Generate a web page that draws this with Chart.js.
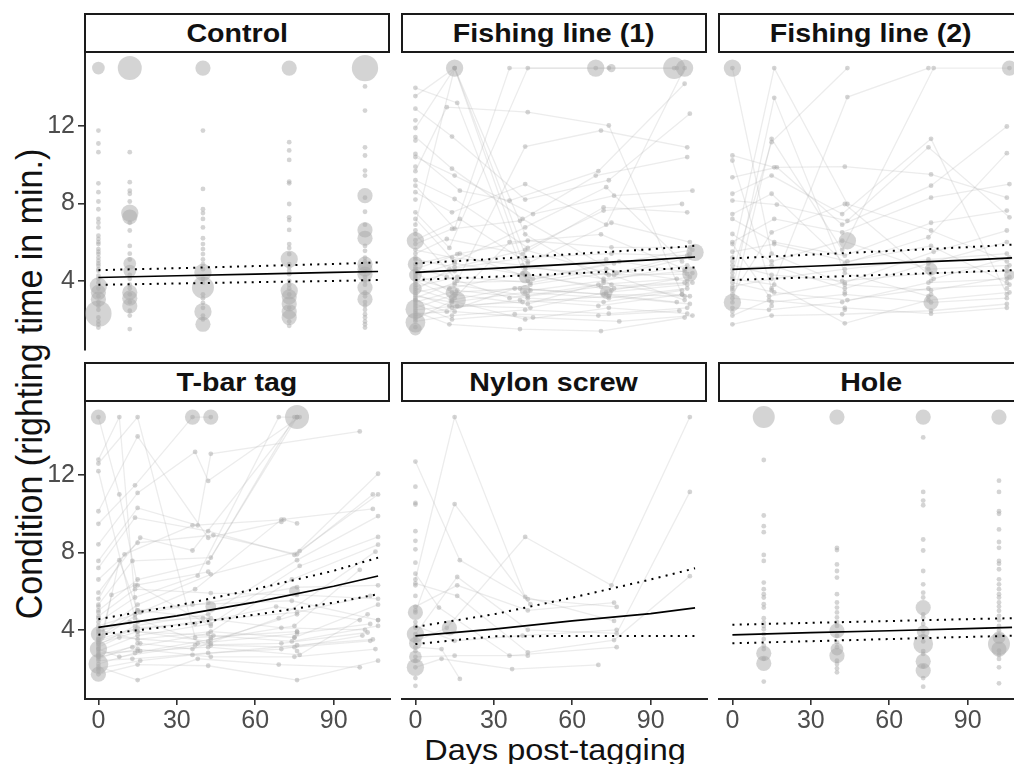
<!DOCTYPE html>
<html>
<head>
<meta charset="utf-8">
<script src="https://cdn.jsdelivr.net/npm/chart.js@4"></script>
<style>
  html, body { margin: 0; padding: 0; background: #fff; width: 1014px; height: 764px; overflow: hidden; }
  body { position: relative; font-family: "Liberation Sans", Arial, sans-serif; }
  canvas { position: absolute; }
  .strip { position: absolute; box-sizing: border-box; border: 2px solid #1a1a1a; background: #fff;
           width: 306px; height: 40px; text-align: center; line-height: 36px; font-weight: bold;
           font-size: 26px; color: #111; white-space: nowrap; }
  .strip span { display: inline-block; transform: scaleX(1.1); }
  .title { position: absolute; font-size: 29.5px; color: #111; white-space: nowrap; line-height: 1; }
</style>
</head>
<body>
<div id="ytitle" class="title" style="left:29px;top:384px;font-size:34px;transform:translate(-50%,-50%) rotate(-90deg) scaleY(1.1)">Condition (righting time in min.)</div>
<div id="xtitle" class="title" style="left:555px;top:750px;transform:translate(-50%,-50%) scaleX(1.1)">Days post-tagging</div>
<script>
// ---- data ----
const panelTitles = ['Control', 'Fishing line (1)', 'Fishing line (2)', 'T-bar tag', 'Nylon screw', 'Hole'];
const xTicks = [0, 30, 60, 90];
const yTicks = [4, 8, 12];
const fitDays = [0, 30, 60, 90, 107];

// Control: unconnected observations per sampling day
const controlDays = [0, 12, 40, 73, 102];
const controlValues = [
  [11.77, 11.1, 10.65, 9.04, 8.58, 8.1, 7.7, 7.2, 7.0, 6.76, 6.33, 6.16, 5.9, 5.64, 5.38, 5.04, 4.78, 4.52, 4.26, 4.1, 3.9, 3.6, 3.2, 2.9, 2.7, 2.5, 2.1, 1.9, 1.75, 1.58, 6.0, 5.5, 5.2, 4.9, 4.6],
  [10.65, 9.1, 8.66, 8.5, 8.1, 7.0, 6.6, 5.8, 5.4, 4.1, 3.8, 3.6, 2.9, 2.45, 2.2, 1.5, 5.1, 4.3, 3.3],
  [11.77, 8.75, 7.7, 7.5, 7.2, 6.76, 6.2, 5.9, 5.64, 5.38, 4.86, 4.6, 4.1, 3.9, 3.3, 2.86, 2.6, 2.2, 2.0, 3.1, 5.1],
  [11.17, 10.74, 10.25, 9.13, 9.04, 7.97, 7.28, 7.14, 6.63, 5.9, 5.7, 5.38, 4.86, 4.52, 4.34, 4.0, 3.8, 3.3, 2.6, 1.9, 1.67, 3.6, 4.7],
  [14.05, 12.8, 10.9, 10.48, 9.7, 9.44, 8.3, 7.57, 6.9, 5.55, 5.2, 5.0, 4.2, 4.0, 3.8, 3.4, 3.2, 2.9, 2.7, 2.5, 2.27, 2.1, 1.9, 1.75, 1.58, 5.8, 4.5]
];
// [day, value, count] for overlapping observations
const controlBig = [
  [0, 15, 7], [0, 3.74, 13], [0, 3.4, 10], [0, 3.05, 10], [0, 2.3, 30],
  [12, 15, 25], [12, 7.5, 13], [12, 7.3, 10], [12, 4.9, 7], [12, 4.5, 7], [12, 3.4, 10], [12, 3.1, 10], [12, 2.7, 10],
  [40, 15, 10], [40, 4.43, 13], [40, 3.65, 21], [40, 2.4, 13], [40, 1.75, 10],
  [73, 15, 10], [73, 5.12, 13], [73, 3.48, 13], [73, 3.17, 10], [73, 2.8, 10], [73, 2.4, 10], [73, 2.1, 10],
  [102, 15, 30], [102, 8.4, 10], [102, 6.63, 10], [102, 6.2, 10], [102, 4.86, 10], [102, 4.6, 10], [102, 4.34, 10], [102, 3.65, 10], [102, 3.05, 10]
];
const controlFit = [4.17, 4.26, 4.34, 4.43, 4.48];
const controlUpper = [4.55, 4.65, 4.76, 4.87, 4.95];
const controlLower = [3.79, 3.86, 3.93, 3.99, 4.04];

// Fishing line (1): individual tracks as day,value pairs
const fishing1Tracks = [
  [0,3.2, 14,2.9, 42,3.4, 74,3.1, 104,3.6],
  [0,2.6, 15,3.3, 43,2.8, 72,3.9, 103,3.2],
  [0,4.1, 13,3.6, 41,4.4, 75,3.5, 105,4.2],
  [0,3.7, 16,4.2, 44,3.9, 73,4.6, 104,4.0],
  [0,2.2, 14,2.6, 40,3.0, 70,2.7, 102,3.3],
  [0,5.1, 15,4.7, 42,5.6, 76,4.3, 105,5.2],
  [0,3.0, 12,2.4, 38,3.6, 72,3.3, 100,2.9],
  [0,4.6, 17,5.4, 45,4.1, 78,5.0, 106,4.4],
  [0,1.9, 14,2.2, 42,2.5, 74,2.3, 104,2.6],
  [0,3.4, 15,3.8, 43,3.2, 71,3.7, 103,3.9],
  [0,6.9, 15,15, 42,4.6, 73,5.1],
  [0,11.9, 15,15, 43,5.0],
  [0,13.98, 16,13.2, 44,3.5, 72,4.0, 104,4.8],
  [0,13.55, 15,15, 42,6.4, 75,3.8],
  [0,11.43, 14,9.8, 41,7.2, 77,4.4, 105,5.4],
  [0,10.56, 17,8.66, 36,8.15, 70,9.67, 103,14.19],
  [0,9.67, 12,12.98, 43,12.72, 74,12.03, 102,3.3],
  [0,8.92, 15,6.7, 36,15, 69,15, 99,15],
  [0,7.54, 13,5.7, 43,15, 74,15, 100,15],
  [0,6.42, 16,4.0, 42,10.94, 71,11.77, 104,10.9],
  [0,8.58, 14,7.54, 42,9.0, 73,6.9, 103,15],
  [0,10.4, 15,9.44, 45,7.45, 76,8.4, 106,8.66],
  [0,5.4, 12,6.16, 41,5.38, 72,7.8, 104,7.54],
  [0,4.86, 16,5.38, 43,6.07, 75,5.73, 105,5.73],
  [0,2.8, 14,2.0, 38,2.27, 70,2.2, 101,2.45],
  [0,3.9, 15,4.5, 42,4.7, 74,4.3, 104,4.34],
  [0,2.4, 13,1.75, 40,1.5, 71,1.4, 103,2.1],
  [0,3.6, 14,3.0, 44,3.8, 73,4.4, 103,3.0],
  [0,4.3, 15,4.9, 42,4.3, 76,3.6, 106,3.9],
  [0,2.9, 16,3.5, 43,3.1, 72,2.9, 102,3.5],
  [0,3.3, 13,2.7, 41,2.9, 74,3.2, 105,2.8],
  [0,5.9, 14,6.68, 40,7.1, 69,9.44, 104,10.4],
  [0,7.2, 15,5.0, 42,6.76, 73,8.84, 102,5.0],
  [0,4.0, 15,3.1, 36,6.0, 71,6.4, 103,4.6],
  [0,6.1, 17,7.2, 43,4.9, 75,7.0, 105,6.0],
  [0,2.0, 14,2.96, 42,2.0, 74,2.6, 104,2.3],
  [0,4.7, 12,4.2, 36,3.1, 70,3.8, 100,4.1],
  [0,3.1, 15,3.9, 43,4.0, 76,4.9, 106,5.6],
  [0,5.6, 14,5.2, 41,4.8, 72,4.1, 103,4.5],
  [0,2.5, 16,2.7, 44,2.6, 73,3.4, 104,3.8],
  [0,12.9, 14,11.46, 42,8.2, 74,9.2, 105,12.64],
  [0,9.2, 15,8.23, 43,5.7, 72,7.63, 102,7.97],
  [0,3.5, 13,4.6, 42,5.2, 75,5.4, 104,5.3],
  [0,4.4, 14,3.4, 40,3.6, 73,3.3, 105,3.2],
  [0,2.3, 15,2.4, 45,2.1, 78,1.9, 106,2.2]
];
const fishing1Single = [0,4.2, 0,3.8, 0,2.1, 0,1.6, 0,5.2, 0,4.5, 0,3.0, 0,2.7, 0,12.3, 0,11.25, 0,9.9, 0,8.2, 0,6.6];
const fishing1Big = [
  [0, 6.07, 13], [0, 4.86, 10], [0, 4.3, 7], [0, 3.6, 7], [0, 2.53, 17], [0, 1.84, 17], [0, 1.5, 7],
  [15, 15, 13], [16, 3.0, 13], [14, 3.4, 7], [69, 15, 13], [75, 15, 3], [99, 15, 21], [103, 15, 13],
  [107, 5.47, 13], [105, 4.35, 10], [73, 3.4, 7], [42, 4.2, 7], [42, 3.5, 5]
];
const fishing1Fit = [4.43, 4.64, 4.86, 5.08, 5.23];
const fishing1Upper = [4.9, 5.13, 5.38, 5.63, 5.81];
const fishing1Lower = [4.04, 4.21, 4.38, 4.57, 4.69];

// Fishing line (2)
const fishing2Tracks = [
  [0,15, 15,5.4, 43,3.8, 76,3.5, 106,4.2],
  [0,5.2, 16,15, 44,7.97, 76,6.6, 105,5.0],
  [0,3.5, 16,13.46, 43,4.4, 75,3.2],
  [0,2.88, 15,11.34, 42,5.6, 77,15, 106,15],
  [0,4.4, 15,11.17, 44,15],
  [0,10.48, 16,9.87, 43,9.9, 76,9.5, 105,8.3],
  [0,10.22, 15,3.6, 44,13.5, 75,15],
  [0,9.35, 17,9.87, 42,6.9, 76,8.92, 105,11.98],
  [0,8.5, 15,9.44, 42,7.45, 76,11.34, 105,3.3],
  [0,8.15, 17,7.94, 44,7.1, 75,10.9, 106,7.28],
  [0,7.45, 15,8.5, 43,4.9, 75,6.25, 105,10.6],
  [0,7.2, 16,6.0, 43,5.3, 76,7.0, 105,7.63],
  [0,6.42, 15,5.0, 42,6.07, 75,4.6, 106,4.8],
  [0,5.9, 14,3.2, 43,3.9, 77,5.5, 105,6.6],
  [0,4.8, 15,4.3, 42,4.0, 76,4.4, 105,4.5],
  [0,3.9, 16,3.4, 44,3.0, 75,3.6, 106,3.8],
  [0,3.1, 15,2.9, 43,3.3, 76,2.88, 105,3.1],
  [0,1.75, 15,2.2, 42,2.27, 76,2.45, 105,2.8],
  [0,4.1, 16,3.8, 43,1.8, 75,3.0, 106,3.4],
  [0,2.6, 14,2.5, 42,2.9, 75,3.9, 105,4.1],
  [0,5.5, 16,5.9, 44,5.0, 76,5.8, 105,3.9],
  [0,4.6, 15,4.8, 43,3.6, 75,4.9, 105,6.0],
  [0,3.3, 15,6.5, 43,7.97, 77,4.1, 106,5.2],
  [0,2.2, 14,3.0, 43,2.6, 76,2.3, 105,2.6],
  [0,6.0, 16,7.2, 42,6.5, 76,8.3, 106,9.0],
  [0,3.7, 15,4.1, 43,4.6, 75,5.1, 105,5.4]
];
const fishing2Single = [0,5.0, 0,4.2, 0,3.6, 0,2.4, 15,3.5, 15,2.7, 43,3.4, 43,2.5, 76,3.3, 76,4.0, 105,3.6, 105,4.7];
const fishing2Big = [[0, 15, 13], [0, 2.88, 13], [44, 6.07, 13], [76, 2.88, 10], [76, 4.6, 7], [106, 15, 10], [106, 4.3, 5]];
const fishing2Fit = [4.59, 4.75, 4.91, 5.07, 5.18];
const fishing2Upper = [5.16, 5.35, 5.54, 5.74, 5.87];
const fishing2Lower = [4.04, 4.18, 4.32, 4.46, 4.55];

// T-bar tag
const tbarTracks = [
  [0,15, 8,11.0, 15,6.3, 43,4.2],
  [0,12.8, 8,15, 15,3.9, 42,3.4, 76,4.8],
  [0,12.6, 15,15, 37,3.6, 76,3.9],
  [0,12.2, 14,4.6, 43,3.2, 75,3.1, 104,3.43],
  [0,10.13, 15,14.0, 42,8.76, 70,9.58],
  [0,9.48, 14,11.47, 36,15, 43,15],
  [0,8.42, 15,11.08, 37,13.2, 42,11.7, 77,15],
  [0,7.56, 15,10.3, 38,9.4, 43,13.1, 100,14.26],
  [0,7.2, 14,9.8, 42,9.1, 75,7.87, 107,12.07],
  [0,5.92, 16,8.76, 36,8.1, 76,15],
  [0,5.3, 13,7.56, 43,7.73, 76,15],
  [0,5.0, 15,6.6, 42,7.47, 75,15],
  [0,4.4, 14,5.67, 38,6.8, 69,15, 76,15],
  [0,3.78, 15,5.3, 43,6.87, 77,8.07, 107,11.0],
  [0,3.5, 16,4.9, 37,6.1, 70,9.7, 105,10.25],
  [0,3.2, 14,4.2, 42,4.8, 76,7.6, 107,9.88],
  [0,2.9, 15,3.7, 43,4.3, 77,7.3, 107,8.8],
  [0,2.7, 13,3.1, 42,3.8, 74,6.6, 107,8.4],
  [0,2.5, 16,3.3, 36,3.0, 69,4.6, 106,8.04],
  [0,2.23, 14,2.8, 43,3.5, 75,4.2, 100,7.1],
  [0,1.7, 15,2.2, 42,2.14, 76,1.4, 107,2.4],
  [0,2.1, 15,1.4, 38,2.5, 69,2.2, 100,2.06],
  [0,3.0, 8,2.6, 37,3.2, 70,3.3, 103,3.86],
  [0,3.4, 14,4.0, 42,4.5, 76,4.9, 104,5.75],
  [0,4.0, 15,3.5, 43,3.9, 75,3.6, 107,5.3],
  [0,2.8, 16,2.9, 42,3.1, 77,2.7, 103,4.8],
  [0,3.6, 15,5.0, 36,5.3, 74,5.5, 107,4.5],
  [0,4.7, 14,6.1, 43,5.9, 76,5.8, 107,5.6],
  [0,2.4, 13,2.5, 42,2.8, 70,3.0, 101,3.7],
  [0,3.1, 8,3.6, 38,3.3, 76,3.8, 104,4.3],
  [0,2.6, 15,3.0, 43,2.6, 75,2.6, 106,3.0],
  [0,3.9, 12,4.4, 40,4.6, 70,4.1, 102,4.0],
  [0,2.0, 16,2.4, 36,2.7, 76,3.2, 105,3.5],
  [0,3.3, 15,3.9, 44,3.7, 74,3.4, 107,4.2],
  [0,4.2, 14,4.8, 42,5.4, 76,6.2, 107,6.3],
  [0,5.6, 10,7.9, 36,9.4, 71,9.7, 76,9.5],
  [0,6.6, 15,8.5, 44,8.9, 76,7.9, 105,11.0],
  [0,3.0, 5,5.8, 14,6.3, 42,7.0],
  [0,2.7, 8,7.6, 15,5.0, 43,4.6],
  [0,3.5, 15,4.1, 37,4.3, 68,5.2, 100,4.5]
];
const tbarSingle = [0,5.2, 0,4.9, 0,4.6, 0,3.3, 0,2.6, 0,1.9, 15,4.4, 15,3.3, 15,2.9, 43,3.6, 43,3.3, 76,3.9, 76,2.9, 75,3.6, 107,4.5];
const tbarBig = [[0, 15, 10], [0, 3.78, 10], [0, 3.0, 13], [0, 2.23, 17], [0, 1.7, 10], [36, 15, 10], [43, 15, 10], [76, 15, 25], [43, 5.2, 5], [75, 6.0, 5]];
const tbarFit = [4.12, 4.72, 5.43, 6.25, 6.78];
const tbarUpper = [4.55, 5.25, 6.1, 7.05, 7.73];
const tbarLower = [3.74, 4.22, 4.78, 5.4, 5.84];

// Nylon screw
const nylonTracks = [
  [0,12.7, 17,7.6, 43,5.58, 77,5.18],
  [0,6.6, 15,15, 42,5.7, 76,4.46],
  [0,4.9, 15,10.5, 44,5.32],
  [0,3.4, 12,4.1, 42,8.8, 75,6.3, 105,15],
  [0,3.78, 16,6.73, 43,4.0, 77,3.81, 105,11.13],
  [0,6.9, 9,5.15, 36,2.66, 77,3.1],
  [0,2.06, 10,2.5, 37,1.97, 70,2.18],
  [0,6.4, 16,5.75, 43,2.83, 76,3.47, 105,6.77],
  [0,3.1, 10,3.0, 17,1.46],
  [0,4.2, 15,3.43, 41,3.7, 77,4.0],
  [0,2.6, 15,2.66, 43,2.66],
  [0,5.2, 16,6.3, 43,5.0, 76,5.4]
];
const nylonSingle = [0,11.4, 0,10.56, 0,10.48, 0,9.1, 0,8.6, 0,8.16, 0,7.47, 0,6.3, 0,5.75, 0,1.1, 0,1.5, 0,2.4, 0,2.9, 0,3.6, 0,4.4, 0,5.0, 0,4.1];
const nylonBig = [[0, 4.9, 10], [0, 3.78, 13], [0, 3.3, 7], [0, 2.06, 13], [13, 4.1, 10], [0, 2.6, 7]];
const nylonFit = [3.68, 4.03, 4.46, 4.84, 5.13];
const nylonUpper = [4.15, 4.8, 5.66, 6.6, 7.18];
const nylonLower = [3.26, 3.66, 3.68, 3.68, 3.68];

// Hole: unconnected observations per sampling day
const holeDays = [12, 40, 73, 102];
const holeValues = [
  [12.78, 9.91, 9.36, 9.05, 7.87, 7.56, 6.44, 6.1, 5.84, 5.67, 5.32, 5.15, 4.38, 4.03, 3.78, 3.52, 3.18, 1.32, 4.6, 4.2, 3.0, 2.5],
  [8.24, 8.12, 7.38, 7.04, 6.7, 5.84, 5.41, 5.15, 4.9, 4.64, 4.2, 3.69, 3.35, 2.23, 1.8, 4.4, 3.1, 2.0, 2.4],
  [13.95, 11.13, 10.68, 10.44, 8.67, 8.1, 7.04, 6.35, 5.92, 5.67, 4.64, 4.3, 3.95, 3.69, 2.75, 1.06, 4.8, 3.4, 2.9, 2.1, 1.5],
  [11.71, 11.13, 10.13, 10.0, 9.19, 8.54, 8.24, 7.56, 7.42, 7.13, 6.61, 6.35, 6.1, 5.84, 5.67, 5.41, 4.98, 4.72, 3.95, 2.92, 2.49, 2.06, 1.23, 5.2, 4.5, 4.2, 3.7, 2.7]
];
const holeBig = [
  [12, 15, 21], [12, 2.78, 10], [12, 2.26, 10],
  [40, 15, 10], [40, 3.95, 10], [40, 3.0, 7], [40, 2.66, 10],
  [73, 15, 10], [73, 5.15, 10], [73, 3.26, 17], [73, 2.37, 10], [73, 1.89, 10], [73, 3.9, 7],
  [102, 15, 10], [102, 3.26, 21], [102, 3.0, 10], [102, 3.6, 7]
];
const holeFit = [3.74, 3.85, 3.95, 4.06, 4.12];
const holeUpper = [4.26, 4.36, 4.45, 4.55, 4.6];
const holeLower = [3.3, 3.41, 3.52, 3.63, 3.69];

// ---- layout ----
const PANEL_LEFT = [85, 402, 719];
const PANEL_TOP = [53, 402];
const STRIP_TOP = [13, 362];
const PANEL_W = 306, PANEL_H = 297, MARGIN_L = 60, MARGIN_B = 40;
const X_MIN = -5.13, X_MAX = 111.95, Y_MIN = 0.42, Y_MAX = 15.78;

const POINT_FILL = 'rgba(170,170,170,0.5)';
const TRACK_LINE = 'rgba(160,160,160,0.2)';
const AXIS_COL = '#222';
const TICK_FONT = { family: '"Liberation Sans", Arial, sans-serif', size: 25 };

function pairs(flat) {
  const out = [];
  for (let i = 0; i < flat.length; i += 2) out.push({ x: flat[i], y: flat[i + 1], n: 1 });
  return out;
}
function columns(days, values) {
  const out = [];
  days.forEach((d, i) => values[i].forEach(v => out.push({ x: d, y: v, n: 1 })));
  return out;
}
function bigPts(list) {
  return list.map(p => ({ x: p[0], y: p[1], n: p[2] }));
}
function fitLine(vals) {
  return fitDays.map((d, i) => ({ x: d, y: vals[i] }));
}

const panels = [
  { tracks: [], points: columns(controlDays, controlValues), big: bigPts(controlBig), fit: [controlFit, controlUpper, controlLower] },
  { tracks: fishing1Tracks, points: pairs(fishing1Single).concat(...fishing1Tracks.map(pairs)), big: bigPts(fishing1Big), fit: [fishing1Fit, fishing1Upper, fishing1Lower] },
  { tracks: fishing2Tracks, points: pairs(fishing2Single).concat(...fishing2Tracks.map(pairs)), big: bigPts(fishing2Big), fit: [fishing2Fit, fishing2Upper, fishing2Lower] },
  { tracks: tbarTracks, points: pairs(tbarSingle).concat(...tbarTracks.map(pairs)), big: bigPts(tbarBig), fit: [tbarFit, tbarUpper, tbarLower] },
  { tracks: nylonTracks, points: pairs(nylonSingle).concat(...nylonTracks.map(pairs)), big: bigPts(nylonBig), fit: [nylonFit, nylonUpper, nylonLower] },
  { tracks: [], points: columns(holeDays, holeValues), big: bigPts(holeBig), fit: [holeFit, holeUpper, holeLower] }
];

panels.forEach((p, k) => {
  const col = k % 3, row = Math.floor(k / 3);
  const showY = col === 0, showX = row === 1;

  // strip header
  const strip = document.createElement('div');
  strip.className = 'strip';
  strip.style.left = (PANEL_LEFT[col] - 1) + 'px';
  strip.style.top = STRIP_TOP[row] + 'px';
  const span = document.createElement('span');
  span.textContent = panelTitles[k];
  strip.appendChild(span);
  document.body.appendChild(strip);

  const canvas = document.createElement('canvas');
  canvas.width = PANEL_W + MARGIN_L;
  canvas.height = PANEL_H + MARGIN_B;
  canvas.style.left = (PANEL_LEFT[col] - MARGIN_L) + 'px';
  canvas.style.top = PANEL_TOP[row] + 'px';
  canvas.style.width = canvas.width + 'px';
  canvas.style.height = canvas.height + 'px';
  document.body.appendChild(canvas);

  const radius = ctx => 2.4 * Math.sqrt((ctx.raw && ctx.raw.n) || 1);
  const datasets = [
    { data: fitLine(p.fit[0]), showLine: true, pointRadius: 0, borderColor: '#000', borderWidth: 1.7 },
    { data: fitLine(p.fit[1]), showLine: true, pointRadius: 0, borderColor: '#000', borderWidth: 2, borderDash: [2, 5.3] },
    { data: fitLine(p.fit[2]), showLine: true, pointRadius: 0, borderColor: '#000', borderWidth: 2, borderDash: [2, 5.3] },
    { data: p.big, pointRadius: radius, backgroundColor: POINT_FILL, borderWidth: 0 },
    { data: p.points, pointRadius: radius, backgroundColor: POINT_FILL, borderWidth: 0 }
  ];
  p.tracks.forEach(t => {
    datasets.push({ data: pairs(t), showLine: true, pointRadius: 0, borderColor: TRACK_LINE, borderWidth: 1.3 });
  });

  new Chart(canvas, {
    type: 'scatter',
    data: { datasets },
    options: {
      responsive: false,
      animation: false,
      events: [],
      layout: { autoPadding: false, padding: { left: showY ? 0 : MARGIN_L, bottom: showX ? 0 : MARGIN_B, top: 0, right: 0 } },
      plugins: { legend: { display: false }, tooltip: { enabled: false } },
      scales: {
        x: {
          type: 'linear', min: X_MIN, max: X_MAX, display: showX,
          afterFit: s => { s.height = showX ? MARGIN_B : 0; s.paddingLeft = 0; s.paddingRight = 0; },
          afterBuildTicks: s => { s.ticks = xTicks.map(v => ({ value: v })); },
          ticks: { font: TICK_FONT, color: '#4d4d4d', padding: 1, maxRotation: 0, minRotation: 0, autoSkip: false },
          grid: { drawOnChartArea: false, tickLength: 6, color: '#333', lineWidth: 1.6 },
          border: { color: AXIS_COL, width: 2 }
        },
        y: {
          type: 'linear', min: Y_MIN, max: Y_MAX, display: showY,
          afterFit: s => { s.width = showY ? MARGIN_L : 0; s.paddingTop = 0; s.paddingBottom = 0; },
          afterBuildTicks: s => { s.ticks = yTicks.map(v => ({ value: v })); },
          ticks: { font: TICK_FONT, color: '#4d4d4d', padding: 3 },
          grid: { drawOnChartArea: false, tickLength: 7, color: '#333', lineWidth: 1.6 },
          border: { color: AXIS_COL, width: 2 }
        }
      }
    }
  });
});
</script>
</body>
</html>
